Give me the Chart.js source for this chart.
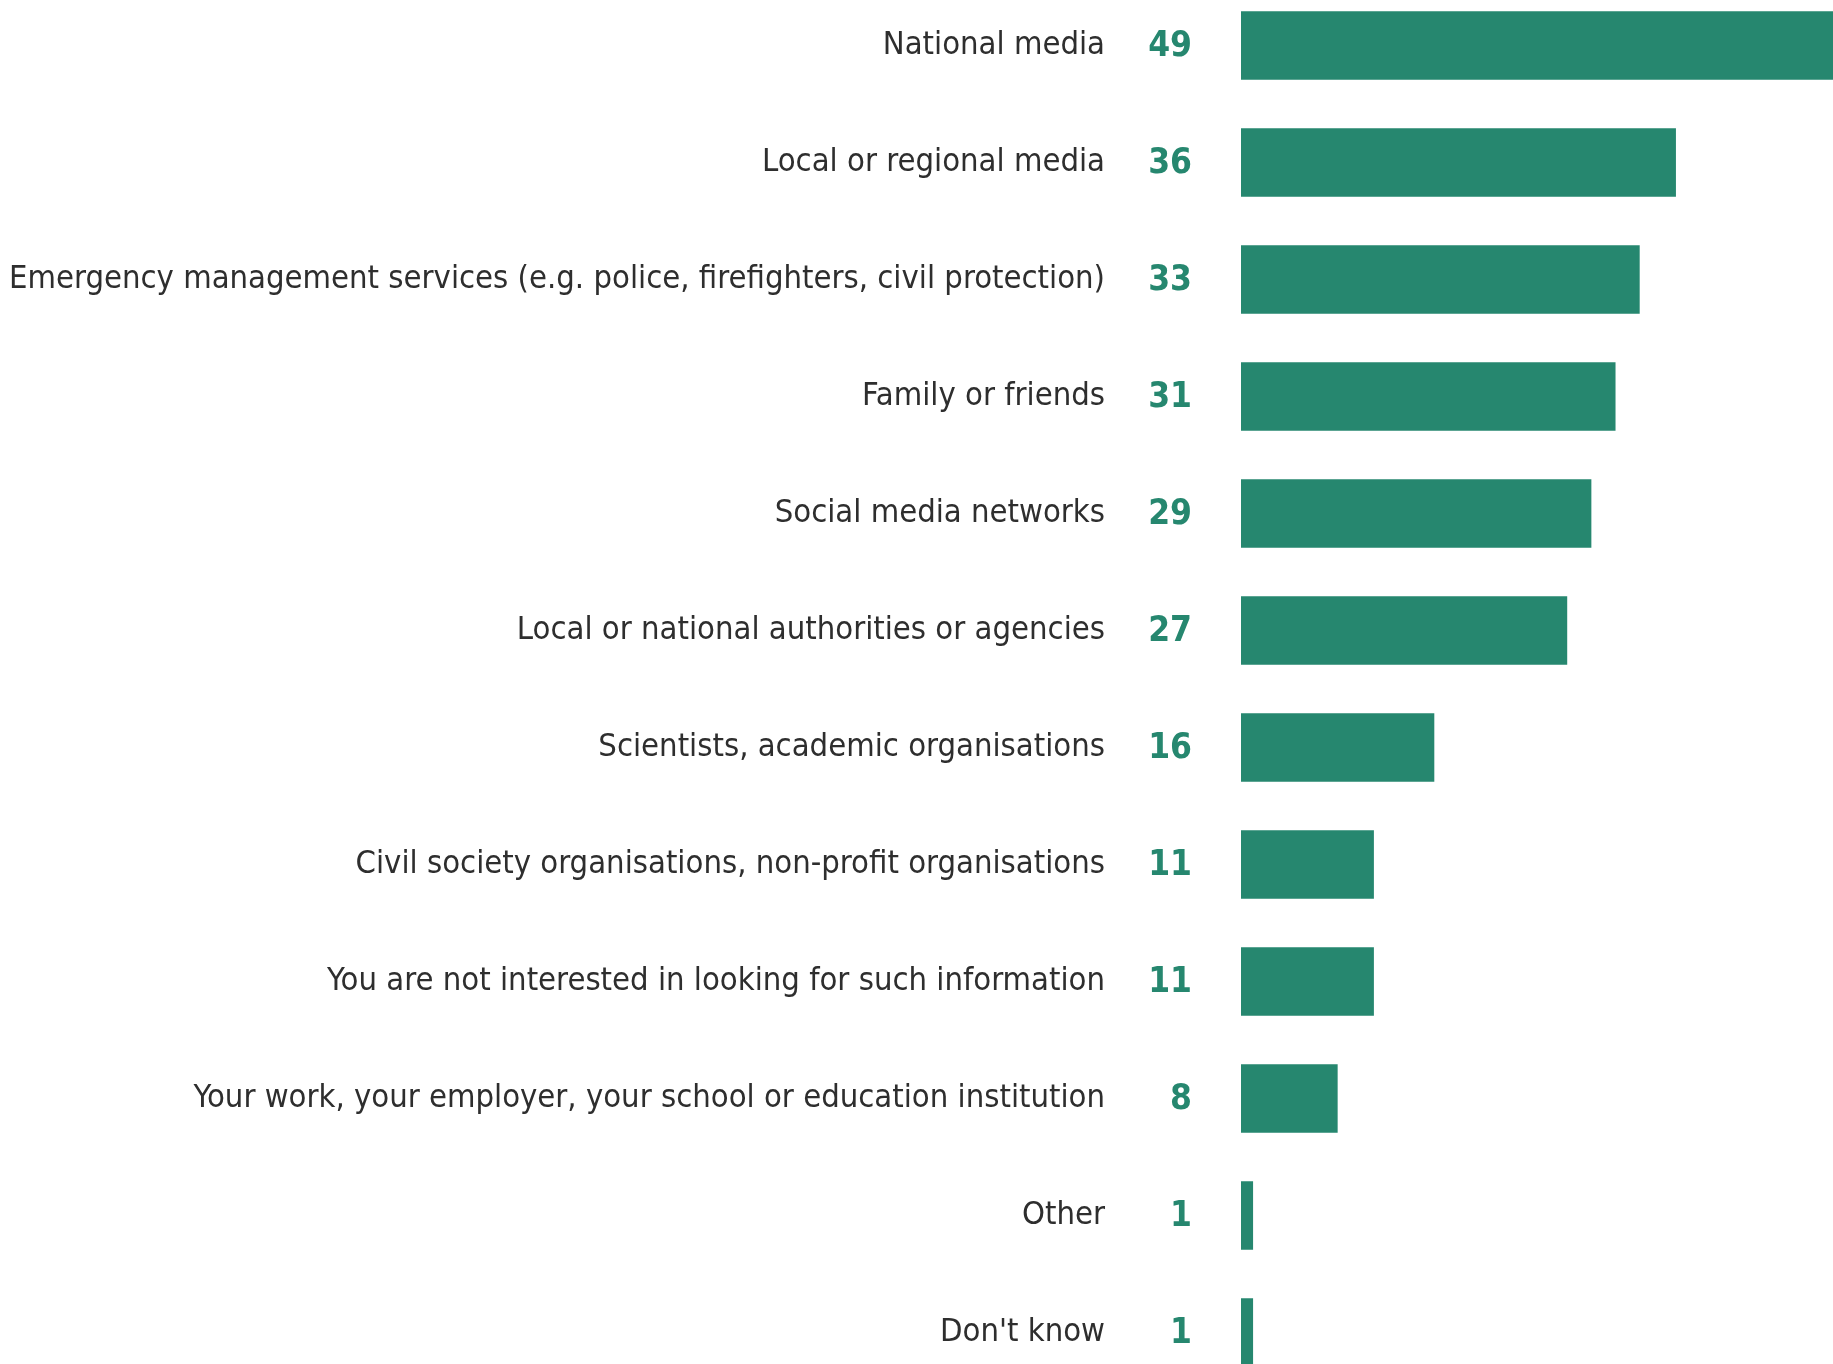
<!DOCTYPE html>
<html>
<head>
<meta charset="utf-8">
<script src="https://cdn.jsdelivr.net/npm/chart.js@4.4.1/dist/chart.umd.min.js"></script>
<style>
  html, body { margin: 0; padding: 0; background: #fff; overflow: hidden; }
  #wrap { position: absolute; left: 0; top: -13px; width: 1833px; height: 1404px; }
</style>
</head>
<body>
<div id="wrap"><canvas id="chart"></canvas></div>
<script>
const categories = [
  "National media",
  "Local or regional media",
  "Emergency management services (e.g. police, firefighters, civil protection)",
  "Family or friends",
  "Social media networks",
  "Local or national authorities or agencies",
  "Scientists, academic organisations",
  "Civil society organisations, non-profit organisations",
  "You are not interested in looking for such information",
  "Your work, your employer, your school or education institution",
  "Other",
  "Don't know"
];
const values = [49, 36, 33, 31, 29, 27, 16, 11, 11, 8, 1, 1];

const teal = '#26876f';
const labelFont = "'DejaVu Sans Condensed', 'Liberation Sans Narrow', 'DejaVu Sans', sans-serif";

// value numbers drawn to the left of each bar
const valueLabels = {
  id: 'valueLabels',
  afterDatasetsDraw(chart) {
    const ctx = chart.ctx;
    const meta = chart.getDatasetMeta(0);
    ctx.save();
    ctx.fillStyle = teal;
    ctx.font = "bold 35px " + labelFont;
    ctx.textAlign = 'right';
    ctx.textBaseline = 'middle';
    meta.data.forEach((bar, i) => {
      ctx.fillText(values[i], chart.chartArea.left - 49, bar.y + 1);
    });
    ctx.restore();
  }
};

new Chart(document.getElementById('chart'), {
  type: 'bar',
  data: {
    labels: categories,
    datasets: [{
      data: values,
      backgroundColor: teal,
      borderWidth: 0,
      barPercentage: 0.585,
      categoryPercentage: 1
    }]
  },
  options: {
    indexAxis: 'y',
    responsive: true,
    maintainAspectRatio: false,
    animation: false,
    layout: { padding: 0 },
    plugins: { legend: { display: false }, tooltip: { enabled: false } },
    scales: {
      x: { display: false, min: 0, max: 49 },
      y: {
        grid: { display: false, drawTicks: false },
        border: { display: false },
        ticks: {
          color: '#2e2e2e',
          padding: 136,
          font: { family: labelFont, size: 32.5 }
        },
        afterFit(scale) {
          scale.width = 1241;
          // the big tick padding should not shrink the plot vertically
          scale.paddingTop = 0;
          scale.paddingBottom = 0;
        }
      }
    }
  },
  plugins: [valueLabels]
});
</script>
</body>
</html>
